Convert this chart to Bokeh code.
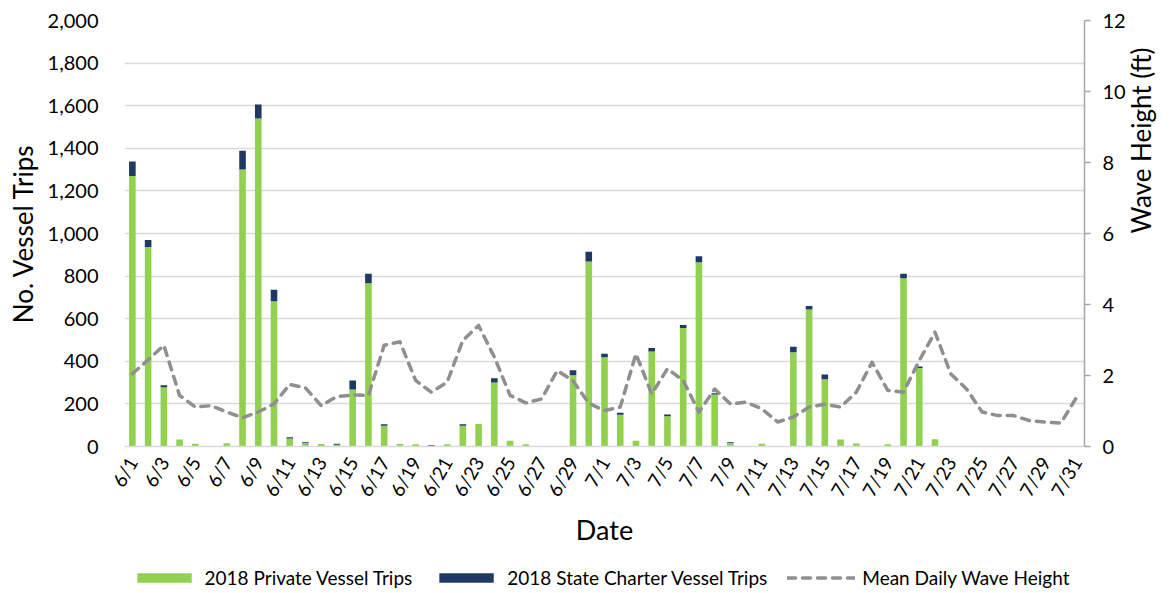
import math
from bokeh.plotting import figure
from bokeh.layouts import column
from bokeh.models import (ColumnDataSource, Range1d, LinearAxis, FixedTicker,
                          NumeralTickFormatter, Legend, LegendItem)
from bokeh.embed import file_html
from bokeh.resources import INLINE

dates = [f"6/{d}" for d in range(1, 31)] + [f"7/{d}" for d in range(1, 32)]

private_trips = [1270, 937, 278, 33, 13, 2, 15, 1300, 1540, 682,
                 38, 16, 12, 8, 268, 767, 98, 12, 10, 2,
                 10, 98, 106, 300, 27, 10, 0, 2, 335, 869,
                 419, 149, 27, 446, 142, 556, 865, 244, 16, 0,
                 13, 0, 443, 643, 316, 33, 14, 0, 10, 790,
                 368, 34, 0, 0, 0, 0, 0, 0, 0, 0, 0]

charter_trips = [68, 33, 10, 0, 0, 0, 0, 88, 66, 54,
                 6, 4, 0, 5, 42, 44, 7, 0, 0, 4,
                 0, 6, 0, 21, 0, 0, 0, 0, 23, 45,
                 16, 9, 0, 16, 8, 15, 28, 6, 4, 0,
                 0, 0, 25, 17, 22, 0, 0, 0, 0, 21,
                 8, 0, 0, 0, 0, 0, 0, 0, 0, 0, 0]

wave_height = [2.05, 2.44, 2.85, 1.44, 1.11, 1.15, 0.97, 0.81, 0.97, 1.2,
               1.75, 1.65, 1.15, 1.41, 1.45, 1.44, 2.85, 2.95, 1.86, 1.53,
               1.81, 2.99, 3.41, 2.52, 1.44, 1.23, 1.34, 2.14, 1.85, 1.22,
               1.01, 1.11, 2.61, 1.48, 2.19, 1.86, 0.97, 1.62, 1.2, 1.25,
               1.06, 0.69, 0.83, 1.11, 1.19, 1.11, 1.53, 2.37, 1.58, 1.53,
               2.42, 3.22, 2.05, 1.62, 0.97, 0.87, 0.87, 0.73, 0.69, 0.66, 1.39]

FONT = "Lato"
GREEN = "#92D050"
NAVY = "#1F3864"
GRAY_LINE = "#8f8f8f"

x_idx = list(range(len(dates)))
src = ColumnDataSource(dict(x=x_idx, private=private_trips, charter=charter_trips,
                            wave=wave_height, date=dates))

p = figure(frame_width=960, frame_height=426, output_backend="svg", toolbar_location=None,
           x_range=Range1d(-0.5, len(dates) - 0.5), y_range=Range1d(0, 2000),
           min_border_left=124, min_border_right=82, min_border_top=20,
           min_border_bottom=115)
p.outline_line_color = None
p.background_fill_color = "white"
p.border_fill_color = "white"

p.extra_y_ranges = {"wave": Range1d(0, 12)}

bars = p.vbar_stack(["private", "charter"], x="x", width=0.42, source=src,
                    color=[GREEN, NAVY], line_color=None)
line = p.line("x", "wave", source=src, y_range_name="wave", line_color=GRAY_LINE,
              line_width=3.5, line_dash="8 7", line_cap="round", line_join="round")

# left axis
la = p.yaxis[0]
la.ticker = FixedTicker(ticks=list(range(0, 2001, 200)))
la.formatter = NumeralTickFormatter(format="0,0")
la.axis_line_color = None
la.major_tick_line_color = None
la.minor_tick_line_color = None
la.major_label_text_font = FONT
la.major_label_text_font_size = "20px"
la.major_label_text_color = "#000000"
la.major_label_standoff = 20
la.axis_label = "No. Vessel Trips"
la.axis_label_text_font = FONT
la.axis_label_text_font_size = "26px"
la.axis_label_text_font_style = "normal"
la.axis_label_text_color = "#000000"
la.axis_label_standoff = 6

# right axis
ra = LinearAxis(y_range_name="wave", ticker=FixedTicker(ticks=list(range(0, 13, 2))))
ra.axis_line_color = "#a6a6a6"
ra.axis_line_width = 1.5
ra.major_tick_line_color = "#a6a6a6"
ra.major_tick_line_width = 1.5
ra.major_tick_out = 6
ra.major_tick_in = 0
ra.minor_tick_line_color = None
ra.major_label_text_font = FONT
ra.major_label_text_font_size = "20px"
ra.major_label_text_color = "#000000"
ra.major_label_standoff = 12
ra.axis_label = "Wave Height (ft)"
ra.axis_label_orientation = math.pi / 2
ra.axis_label_text_font = FONT
ra.axis_label_text_font_size = "26px"
ra.axis_label_text_font_style = "normal"
ra.axis_label_text_color = "#000000"
ra.axis_label_standoff = 12
p.add_layout(ra, "right")

# x axis
xa = p.xaxis[0]
xa.ticker = FixedTicker(ticks=x_idx[::2])
xa.major_label_overrides = {i: dates[i] for i in x_idx}
xa.major_label_orientation = math.pi / 3
xa.axis_line_color = "#d9d9d9"
xa.axis_line_width = 1.5
xa.major_tick_line_color = None
xa.minor_tick_line_color = None
xa.major_label_text_font = FONT
xa.major_label_text_font_size = "19px"
xa.major_label_text_color = "#000000"
xa.major_label_standoff = 6
xa.axis_label = "Date"
xa.axis_label_text_font = FONT
xa.axis_label_text_font_size = "27px"
xa.axis_label_text_font_style = "normal"
xa.axis_label_text_color = "#000000"
xa.axis_label_standoff = 4

p.xgrid.grid_line_color = None
p.ygrid.grid_line_color = "#d9d9d9"
p.ygrid.grid_line_width = 1.5

# legend strip below the chart (same data renderers, hidden)
p2 = figure(width=1166, height=32, output_backend="svg", toolbar_location=None,
            x_range=Range1d(-0.5, len(dates) - 0.5), y_range=Range1d(0, 2000),
            x_axis_location=None, y_axis_location=None,
            min_border_left=0, min_border_right=0, min_border_top=0, min_border_bottom=0)
p2.outline_line_color = None
p2.xgrid.grid_line_color = None
p2.ygrid.grid_line_color = None
lbars = p2.vbar_stack(["private", "charter"], x="x", width=0.42, source=src,
                      color=[GREEN, NAVY], line_color=None)
lline = p2.line("x", "wave", source=src, line_color=GRAY_LINE, line_width=3.5,
                line_dash="8 7", line_cap="round")
for r in list(lbars) + [lline]:
    r.visible = False

legend = Legend(items=[
    LegendItem(label="2018 Private Vessel Trips", renderers=[lbars[0]]),
    LegendItem(label="2018 State Charter Vessel Trips", renderers=[lbars[1]]),
    LegendItem(label="Mean Daily Wave Height", renderers=[lline]),
], orientation="horizontal", location="center")
legend.glyph_width = 68
legend.glyph_height = 12
legend.label_standoff = 7
legend.spacing = 20
legend.padding = 0
legend.margin = 0
legend.border_line_color = None
legend.background_fill_alpha = 0
legend.inactive_fill_alpha = 0
legend.label_text_font = FONT
legend.label_text_font_size = "19px"
legend.label_text_color = "#000000"
p2.add_layout(legend, "center")

open("out.html", "w").write(file_html(column(p, p2, spacing=0), INLINE))
